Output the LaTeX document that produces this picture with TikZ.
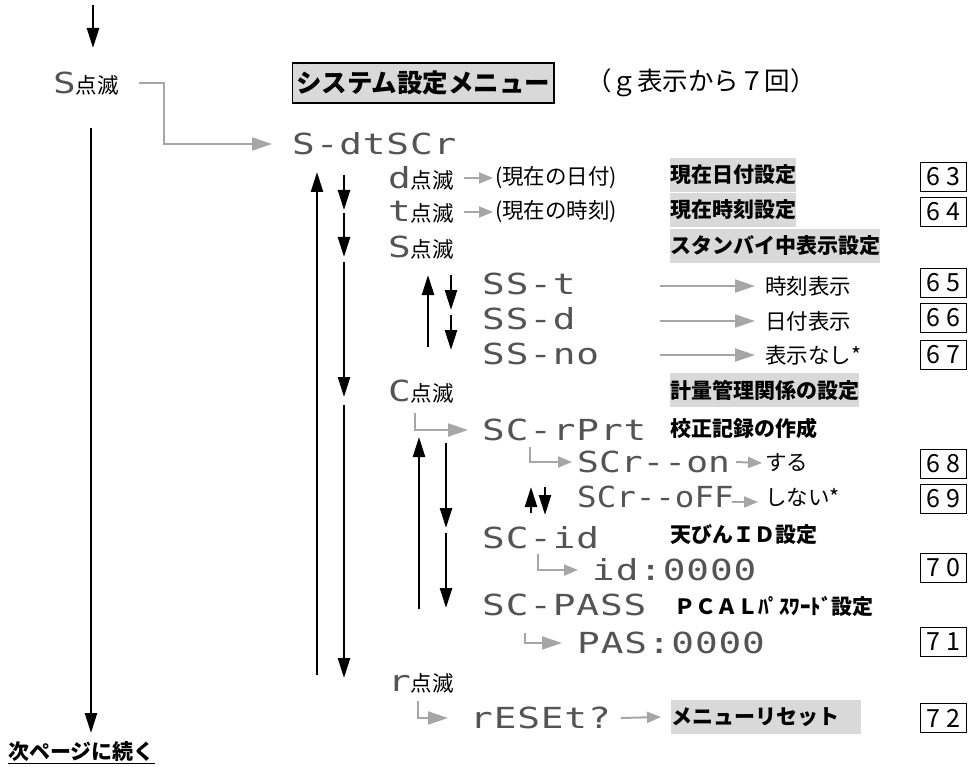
\documentclass[tikz,border=0pt]{standalone}
\usepackage{fontspec}
\usetikzlibrary{arrows.meta}
\newfontfamily\jp{Noto Sans CJK JP}
\newfontfamily\segA[FakeStretch=1.3,LetterSpace=3]{DejaVu Sans Mono}
\newfontfamily\segB[FakeStretch=1.25]{DejaVu Sans Mono}
\newfontfamily\segC[FakeStretch=1.12]{DejaVu Sans Mono}
\definecolor{garr}{gray}{0.65}
\definecolor{segc}{gray}{0.33}
\definecolor{bgc}{gray}{0.85}
\newcommand\blk[1]{{\color{segc}\segA\fontsize{29}{29}\selectfont #1}{\jp\fontsize{21.5}{22}\selectfont 点滅}}
\tikzset{
  seg/.style={anchor=west,inner sep=0pt,text=segc,font=\segA\fontsize{29}{29}\selectfont},
  txt/.style={anchor=west,inner sep=0pt,font=\jp\fontsize{21.5}{22}\selectfont},
  lab/.style={anchor=west,inner xsep=0pt,inner ysep=0pt,minimum height=34pt,font=\jp\bfseries\fontsize{21}{21}\selectfont},
  labbg/.style={lab,fill=bgc},
  numbox/.style={draw,line width=1pt,minimum width=46pt,minimum height=29pt,inner sep=0pt,font=\jp\fontsize{25}{25}\selectfont},
  barrow/.style={line width=2.4pt,-{Triangle[length=20pt,width=12pt]}},
  garrow/.style={draw=garr,line width=2pt,-{Triangle[length=20pt,width=13pt]}},
  gsmall/.style={draw=garr,line width=2pt,-{Triangle[length=14pt,width=11pt]}}
}
\newcommand\nb[2]{#1\hspace{6pt}#2}
\begin{document}
\begin{tikzpicture}[x=1pt,y=-1pt]
\useasboundingbox (0,0) rectangle (971,767);
\fill[white] (0,0) rectangle (971,767);

% left column
\node[txt] (sL) at (53,84) {\blk{S}};
\node[txt,font=\jp\bfseries\fontsize{21}{21}\selectfont] (cont) at (8,753) {\underline{次ページに続く}};

% title
\node[draw,fill=bgc,line width=1.3pt,inner xsep=3.5pt,inner ysep=0pt,minimum height=40pt,anchor=west,font=\jp\bfseries\fontsize{25.5}{26}\selectfont] (title) at (292,83) {システム設定メニュー};
\node[anchor=west,inner sep=0pt,font=\jp\fontsize{25.5}{26}\selectfont] (sub) at (586,83) {（ｇ表示から７回）};

% display rows
\node[seg] (sdt) at (292,144) {S-dtSCr};
\node[txt] (dR) at (388,178) {\blk{d}};
\node[txt] (tR) at (388,212) {\blk{t}};
\node[txt] (sR) at (388,248) {\blk{S}};
\node[txt] (cR) at (388,392) {\blk{C}};
\node[txt] (rR) at (388,683) {\blk{r}};
\node[txt] (dT) at (495,178) {(現在の日付)};
\node[txt] (tT) at (495,212) {(現在の時刻)};

\node[seg] (sst) at (482,284) {SS-t};
\node[seg] (ssd) at (482,319) {SS-d};
\node[seg] (ssn) at (482,354) {SS-no};
\node[txt] (k1) at (765,286) {時刻表示};
\node[txt] (k2) at (765,321) {日付表示};
\node[txt] (k3) at (765,355) {表示なし*};

\node[seg] (scr) at (482,430) {SC-rPrt};
\node[seg,font=\segB\fontsize{29}{29}\selectfont] (scon) at (577,462) {SCr--on};
\node[seg,font=\segC\fontsize{29}{29}\selectfont] (scoff) at (577,497) {SCr--oFF};
\node[txt] (suru) at (765,463) {する};
\node[txt] (shinai) at (765,497) {しない*};
\node[seg] (scid) at (482,538) {SC-id};
\node[seg] (idn) at (592,570) {id:0000};
\node[seg] (scp) at (482,605) {SC-PASS};
\node[seg] (pas) at (577,643) {PAS:0000};
\node[seg] (rst) at (470,718) {rESEt?};

% labels
\node[labbg] (L1) at (670,175) {現在日付設定};
\node[labbg] (L2) at (670,210) {現在時刻設定};
\node[labbg] (L3) at (670,246) {スタンバイ中表示設定};
\node[labbg] (L4) at (670,390) {計量管理関係の設定};
\node[lab] (L5) at (670,428) {校正記録の作成};
\node[lab] (L6) at (670,535) {天びんＩＤ設定};
\node[lab] (L7) at (674,607) {ＰＣＡＬﾊﾟｽﾜｰﾄﾞ設定};
\node[labbg,text width=190pt,align=left] (L8) at (671,717) {メニューリセット};

% number boxes
\node[numbox] (b63) at (943.5,177) {\nb 63};
\node[numbox] (b64) at (943.5,212) {\nb 64};
\node[numbox] (b65) at (943.5,283) {\nb 65};
\node[numbox] (b66) at (943.5,318) {\nb 66};
\node[numbox] (b67) at (943.5,355) {\nb 67};
\node[numbox] (b68) at (943.5,464) {\nb 68};
\node[numbox] (b69) at (943.5,499) {\nb 69};
\node[numbox] (b70) at (943.5,568) {\nb 70};
\node[numbox] (b71) at (943.5,642) {\nb 71};
\node[numbox] (b72) at (943.5,718) {\nb 72};

% black arrow end points
\coordinate (a0s) at (93,5);    \coordinate (a0e) at (93,48);
\coordinate (m0) at (91,128);   \coordinate (m1) at (91,733);
\coordinate (u0) at (317,675);  \coordinate (u1) at (317,172);
\coordinate (c0) at (344,175);  \coordinate (c1) at (344,210);
\coordinate (c2) at (344,213);  \coordinate (c3) at (344,257);
\coordinate (c4) at (344,262);  \coordinate (c5) at (344,397);
\coordinate (c6) at (344,405);  \coordinate (c7) at (344,678);
\coordinate (p0) at (428,347);  \coordinate (p1) at (428,275);
\coordinate (p2) at (451,275);  \coordinate (p3) at (451,310);
\coordinate (p4) at (451,315);  \coordinate (p5) at (451,350);
\coordinate (q0) at (419,609);  \coordinate (q1) at (419,437);
\coordinate (q2) at (446,443);  \coordinate (q3) at (446,528);
\coordinate (q4) at (446,533);  \coordinate (q5) at (446,608);
\coordinate (w0) at (531,513);  \coordinate (w1) at (531,487);
\coordinate (w2) at (545,487);  \coordinate (w3) at (545,515);

\draw[barrow] (a0s) -- (a0e);
\draw[barrow] (m0) -- (m1);
\draw[barrow] (u0) -- (u1);
\draw[barrow] (c0) -- (c1);
\draw[barrow] (c2) -- (c3);
\draw[barrow] (c4) -- (c5);
\draw[barrow] (c6) -- (c7);
\draw[barrow] (p0) -- (p1);
\draw[barrow] (p2) -- (p3);
\draw[barrow] (p4) -- (p5);
\draw[barrow] (q0) -- (q1);
\draw[barrow] (q2) -- (q3);
\draw[barrow] (q4) -- (q5);
\draw[barrow] (w0) -- (w1);
\draw[barrow] (w2) -- (w3);

% gray connectors
\coordinate (g0) at (139,83);
\coordinate (g1) at (164,83);
\draw[garrow] (g0) -- (g1) |- ([xshift=-20pt]sdt.west);
\draw[gsmall] ([xshift=10pt]dR.east) -- ([xshift=-2pt]dT.west);
\draw[gsmall] ([xshift=10pt]tR.east) -- ([xshift=-2pt]tT.west);
\coordinate (s1) at (660,286);
\coordinate (s2) at (660,321);
\coordinate (s3) at (660,355);
\draw[garrow] (s1) -- ([xshift=-10pt]k1.west);
\draw[garrow] (s2) -- ([xshift=-10pt]k2.west);
\draw[garrow] (s3) -- ([xshift=-10pt]k3.west);
\coordinate (e1) at (415,413);
\draw[garrow] (e1) |- ([xshift=-14pt]scr.west);
\coordinate (e2) at (530,447);
\draw[gsmall] (e2) |- ([xshift=-5pt]scon.west);
\draw[gsmall] ([xshift=6pt]scon.east) -- ([xshift=-3pt]suru.west);
\draw[gsmall] ([xshift=-2pt,yshift=-5pt]scoff.east) -- ([xshift=-7pt,yshift=-5pt]shinai.west);
\coordinate (e3) at (538,554);
\draw[gsmall] (e3) |- ([xshift=-14pt]idn.west);
\coordinate (e4) at (525,633);
\draw[garrow] (e4) |- ([xshift=-15pt]pas.west);
\coordinate (e5) at (418,701);
\draw[garrow] (e5) |- ([xshift=-22pt]rst.west);
\draw[gsmall] ([xshift=10pt]rst.east) -- ([xshift=-10pt]L8.west);
\end{tikzpicture}
\end{document}
